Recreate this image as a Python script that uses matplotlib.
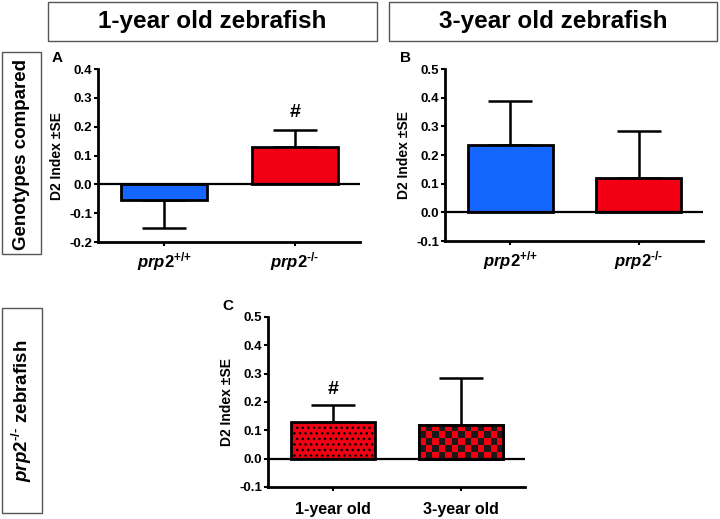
import numpy as np
import matplotlib
matplotlib.use('Agg')
from matplotlib import pyplot as plt
from matplotlib.patches import Rectangle

plt.rcParams['font.family'] = 'Liberation Sans'
plt.rcParams['font.weight'] = 'bold'
plt.rcParams['axes.labelweight'] = 'bold'
plt.rcParams['mathtext.fontset'] = 'custom'
plt.rcParams['mathtext.it'] = 'Liberation Sans:italic:bold'
plt.rcParams['mathtext.rm'] = 'Liberation Sans:bold'
plt.rcParams['mathtext.bf'] = 'Liberation Sans:bold'
plt.rcParams['hatch.color'] = 'black'

# panel A: 1-year old, genotypes
a_labels = [r'$prp2^{\text{+/+}}$', r'$prp2^{\text{-/-}}$']
a_means = [-0.055, 0.13]
a_err = [0.095, 0.06]
# panel B: 3-year old, genotypes
b_labels = [r'$prp2^{\text{+/+}}$', r'$prp2^{\text{-/-}}$']
b_means = [0.235, 0.12]
b_err = [0.155, 0.165]
# panel C: prp2-/- by age
c_labels = ['1-year old', '3-year old']
c_means = [0.13, 0.12]
c_err = [0.06, 0.165]

BLUE = '#1565ff'
RED = '#f00012'

fig = plt.figure(figsize=(7.2, 5.19), dpi=100)


def panel(rect, means, errs, colors, labels, ylim, yticks, letter, lsize):
    ax = fig.add_axes(rect)
    x = np.arange(len(means))
    bars = ax.bar(x, means, width=0.66, color=colors, edgecolor='black', linewidth=2, zorder=2)
    for xi, m, e in zip(x, means, errs):
        sign = 1 if m >= 0 else -1
        ax.errorbar(xi, m, yerr=[[0], [e]] if sign > 0 else [[e], [0]],
                    fmt='none', ecolor='black', elinewidth=1.8, capsize=16, capthick=1.8, zorder=1)
    ax.axhline(0, color='black', linewidth=1.6, zorder=3)
    ax.set_xlim(-0.51, 1.5)
    ax.set_ylim(*ylim)
    ax.set_yticks(yticks)
    ax.set_yticklabels(['%.1f' % t for t in yticks], fontweight='bold', fontsize=9.5)
    ax.set_xticks(x)
    ax.set_xticklabels(labels, fontsize=lsize, fontweight='bold')
    for s in ['top', 'right']:
        ax.spines[s].set_visible(False)
    for s in ['left', 'bottom']:
        ax.spines[s].set_linewidth(2)
    ax.tick_params(axis='y', width=1.5, length=3, pad=1)
    ax.tick_params(axis='x', width=1.5, length=3, pad=3)
    ax.set_ylabel('D2 Index \u00b1SE', fontsize=10, fontweight='bold', labelpad=4)
    ax.text(-0.155, 1.065, letter, transform=ax.transAxes, fontsize=11, fontweight='bold',
            ha='center', va='center')
    return ax, bars


axA, barsA = panel([0.1361, 0.5337, 0.3639, 0.3333], a_means, a_err, [BLUE, RED], a_labels,
                   (-0.2, 0.4), np.arange(-0.2, 0.41, 0.1), 'A', 12)
axA.text(1, a_means[1] + a_err[1] + 0.03, '#', ha='center', va='bottom', fontsize=14)

axB, barsB = panel([0.6181, 0.5356, 0.3583, 0.3314], b_means, b_err, [BLUE, RED], b_labels,
                   (-0.1, 0.5), np.arange(-0.1, 0.51, 0.1), 'B', 12)

axC, barsC = panel([0.3722, 0.0617, 0.3569, 0.3276], c_means, c_err, [RED, RED], c_labels,
                   (-0.1, 0.5), np.arange(-0.1, 0.51, 0.1), 'C', 11.5)
axC.text(0, c_means[0] + c_err[0] + 0.025, '#', ha='center', va='bottom', fontsize=14)
axC.tick_params(axis='x', pad=8)
barsC[0].set_hatch('...')

# checkerboard fill for the 3-year bar
b = barsC[1]
bx, by, bw, bh = b.get_x(), b.get_y(), b.get_width(), b.get_height()
checks = np.indices((5, 13)).sum(axis=0) % 2
im = axC.imshow(checks, cmap=matplotlib.colors.ListedColormap([RED, '#1a1a1a']),
                extent=(bx, bx + bw, by, by + bh), aspect='auto', interpolation='nearest', zorder=2.5)
im.set_clip_path(b)
axC.add_patch(Rectangle((bx, by), bw, bh, fill=False, edgecolor='black', linewidth=2, zorder=2.6))
axC.set_xlim(-0.51, 1.5)
axC.set_ylim(-0.1, 0.5)

# header boxes
W, H = 720.0, 519.0


def box(x0, y0, x1, y1):
    fig.add_artist(Rectangle((x0 / W, 1 - y1 / H), (x1 - x0) / W, (y1 - y0) / H,
                             transform=fig.transFigure, fill=False, edgecolor='#555555', linewidth=1))


box(48, 2, 377, 41)
fig.text((48 + 377) / 2 / W, 1 - 22 / H, '1-year old zebrafish', ha='center', va='center', fontsize=17.5)
box(389, 2, 717, 41)
fig.text((389 + 717) / 2 / W, 1 - 22 / H, '3-year old zebrafish', ha='center', va='center', fontsize=17.5)
box(2, 52, 41, 254)
fig.text(22 / W, 1 - 155 / H, 'Genotypes compared', ha='center', va='center', rotation=90, fontsize=13.5)
box(2, 308, 42, 513)
fig.text(22 / W, 1 - 411 / H, r'$prp2^{\text{-/-}}$ zebrafish', ha='center', va='center', rotation=90,
         fontsize=13.5)

plt.savefig('out.png', dpi=100)
